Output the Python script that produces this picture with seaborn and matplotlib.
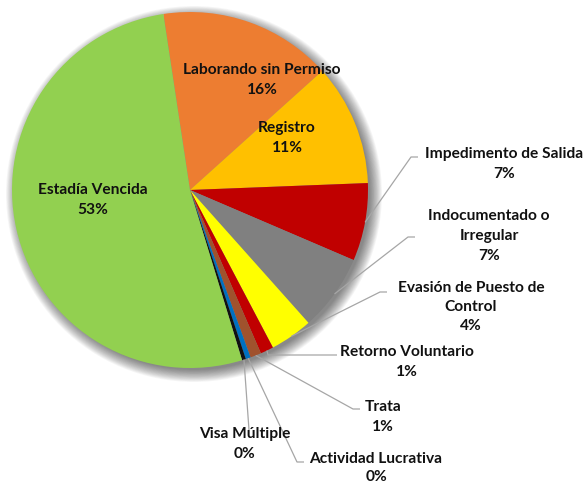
import numpy as np
import matplotlib
matplotlib.use("Agg")
import matplotlib.pyplot as plt
import seaborn as sns
from matplotlib.patches import Circle

sns.set_theme(style="white")
plt.rcParams['font.family'] = ['Lato', 'DejaVu Sans']

# Data (clockwise order starting near 12 o'clock)
categories = ["Laborando sin Permiso", "Registro", "Impedimento de Salida",
              "Indocumentado o\nIrregular", "Evasión de Puesto de\nControl",
              "Retorno Voluntario", "Trata", "Actividad Lucrativa",
              "Visa Múltiple", "Estadía Vencida"]
values = [15.8, 11.1, 7.1, 7.0, 3.9, 1.2, 1.0, 0.45, 0.35, 52.6]
pct_labels = ["16%", "11%", "7%", "7%", "4%", "1%", "1%", "0%", "0%", "53%"]
colors = ["#ed7d31", "#ffc000", "#c00000", "#808080", "#ffff00",
          "#c00000", "#a0522d", "#0070c0", "#111111", "#92d050"]

W, H = 587, 484
fig = plt.figure(figsize=(W / 100, H / 100), dpi=100)
ax = fig.add_axes([0, 0, 1, 1])

cx, cy, R = 190, H - 190, 178

# soft shadow
for i in range(16):
    r = R + 10 - i * 0.8
    ax.add_patch(Circle((cx + 4, cy - 4), r, color="black", alpha=0.035, lw=0, zorder=0))

wedges, _ = ax.pie(values, colors=colors, startangle=98.6, counterclock=False,
                   radius=R, center=(cx, cy), frame=True,
                   wedgeprops=dict(linewidth=0))
ax.set_xlim(0, W)
ax.set_ylim(0, H)
ax.set_aspect("auto")
ax.axis("off")

fs = 11.2
tkw = dict(fontsize=fs, fontweight="bold", color="#111111", ha="center", va="center",
           zorder=5)

# inside labels (x, y image coords)
inside = {0: (262, 80), 1: (287, 138), 9: (93, 200)}
for i, (x, y) in inside.items():
    ax.text(x, H - y, categories[i] + "\n" + pct_labels[i], linespacing=1.5, **tkw)

# outside labels: text center, leader start point, line spacing
outside = {
    2: ((504, 164), (411, 157), (418, 157), 1.5),
    3: ((489, 236), (408, 237), (415, 237), 1.5),
    4: ((471, 307), (380, 292), (387, 292), 1.5),
    5: ((407, 362), (268, 355), (337, 355), 1.5),
    6: ((383, 417), (353, 409), (360, 409), 1.5),
    7: ((376, 468), (297, 462), (304, 462), 1.3),
    8: ((245, 444), (249, 430), (249, 430), 1.5),
}
line_col = "#a6a6a6"
for i, ((tx, ty), (lx, ly), (lx2, ly2), ls) in outside.items():
    ax.text(tx, H - ty, categories[i] + "\n" + pct_labels[i], linespacing=ls, **tkw)
    w = wedges[i]
    mid = np.deg2rad((w.theta1 + w.theta2) / 2)
    ex, ey = cx + R * np.cos(mid), cy + R * np.sin(mid)
    ax.plot([ex, lx, lx2], [ey, H - ly, H - ly2], color=line_col, lw=0.9, zorder=4,
            solid_capstyle="butt")

fig.savefig("out.png", dpi=100, facecolor="white")
